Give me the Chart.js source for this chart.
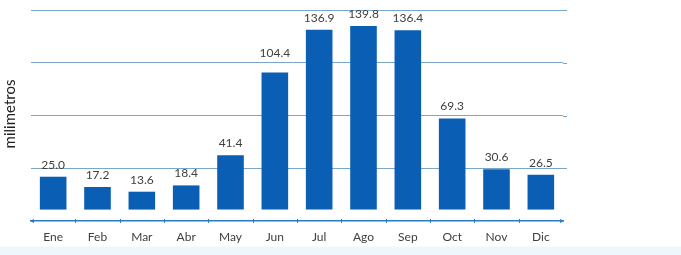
<!DOCTYPE html>
<html>
<head>
<meta charset="utf-8">
<script src="https://cdn.jsdelivr.net/npm/chart.js@4/dist/chart.umd.min.js"></script>
<style>
  html, body { margin: 0; padding: 0; background: #ffffff; }
  #wrap { position: relative; width: 681px; height: 255px;
          background: linear-gradient(to bottom, #ffffff 0px, #ffffff 246px, #eef7fb 247px, #eef7fb 255px); }
  canvas { display: block; }
</style>
</head>
<body>
<div id="wrap"><canvas id="c" width="681" height="255"></canvas></div>
<script>
const categories = ["Ene","Feb","Mar","Abr","May","Jun","Jul","Ago","Sep","Oct","Nov","Dic"];
const rainfall = [25.0, 17.2, 13.6, 18.4, 41.4, 104.4, 136.9, 139.8, 136.4, 69.3, 30.6, 26.5];
const gridValues = [31.3, 71.5, 111.7, 151.9];
const yTitle = "milimetros";

const FONT = "Lato, 'Open Sans', sans-serif";

const valueLabels = {
  id: 'valueLabels',
  afterDatasetsDraw(chart) {
    const ctx = chart.ctx;
    const meta = chart.getDatasetMeta(0);
    ctx.save();
    ctx.font = "12px " + FONT;
    ctx.fillStyle = "#404040";
    ctx.textAlign = "center";
    ctx.textBaseline = "middle";
    meta.data.forEach((bar, i) => {
      const extra = categories[i] === "Jun" ? 7 : 0;
      ctx.fillText(rainfall[i].toFixed(1), bar.x, bar.y - 12 - extra);
    });
    ctx.restore();
  }
};

const sideTitle = {
  id: 'sideTitle',
  afterDraw(chart) {
    const ctx = chart.ctx;
    ctx.save();
    ctx.font = "15px " + FONT;
    ctx.fillStyle = "#222222";
    ctx.textAlign = "center";
    ctx.textBaseline = "middle";
    ctx.translate(10, 114);
    ctx.rotate(-Math.PI / 2);
    ctx.fillText(yTitle, 0, 0);
    ctx.restore();
  }
};

const axisDecor = {
  id: 'axisDecor',
  afterDraw(chart) {
    const ctx = chart.ctx;
    const a = chart.chartArea;
    const x = chart.scales.x;
    ctx.save();
    ctx.fillStyle = "#2a7cc0";
    ctx.strokeStyle = "#2a7cc0";
    ctx.lineWidth = 1;
    const y = a.bottom;
    ctx.beginPath();
    ctx.moveTo(a.left - 1, y); ctx.lineTo(a.left + 3, y - 2); ctx.lineTo(a.left + 3, y + 2); ctx.closePath(); ctx.fill();
    ctx.beginPath();
    ctx.moveTo(a.right + 1, y); ctx.lineTo(a.right - 3, y - 2); ctx.lineTo(a.right - 3, y + 2); ctx.closePath(); ctx.fill();
    for (let i = 1; i < categories.length; i++) {
      const bx = Math.round((x.getPixelForValue(i - 1) + x.getPixelForValue(i)) / 2) + 0.5;
      ctx.beginPath(); ctx.moveTo(bx, y - 2); ctx.lineTo(bx, y + 2); ctx.stroke();
    }
    ctx.font = "12px " + FONT;
    ctx.fillStyle = "#404040";
    ctx.textAlign = "center";
    ctx.textBaseline = "middle";
    categories.forEach((c, i) => ctx.fillText(c, x.getPixelForValue(i), y + 16));
    ctx.restore();
  }
};

// extend the horizontal grid lines slightly past the plot area, as in the reference
const gridExtend = {
  id: 'gridExtend',
  beforeDatasetsDraw(chart) {
    const ctx = chart.ctx;
    const a = chart.chartArea;
    const ys = chart.scales.y;
    ctx.save();
    ctx.strokeStyle = '#7aa6c9';
    ctx.lineWidth = 1;
    gridValues.forEach(v => {
      const py = Math.round(ys.getPixelForValue(v)) + 0.5;
      ctx.beginPath(); ctx.moveTo(a.right, py); ctx.lineTo(a.right + 4, py); ctx.stroke();
    });
    ctx.restore();
  }
};

new Chart(document.getElementById('c'), {
  type: 'bar',
  data: {
    labels: categories,
    datasets: [{
      data: rainfall,
      backgroundColor: '#0a5fb4',
      borderWidth: 0,
      barPercentage: 0.6,
      categoryPercentage: 1.0,
      base: 0
    }]
  },
  options: {
    responsive: false,
    animation: false,
    events: [],
    layout: { padding: { left: 31, right: 118, top: 10, bottom: 34 } },
    plugins: { legend: { display: false }, tooltip: { enabled: false } },
    scales: {
      x: {
        offset: true,
        grid: { display: false, drawOnChartArea: false, drawTicks: false, tickLength: 0 },
        border: { display: true, color: '#2a7cc0', width: 1.5 },
        ticks: { display: false, padding: 0 }
      },
      y: {
        min: -8.7,
        max: 151.9,
        afterBuildTicks(scale) { scale.ticks = gridValues.map(v => ({ value: v })); },
        grid: { color: '#7aa6c9', lineWidth: 1, drawTicks: false },
        border: { display: false },
        ticks: { display: false, padding: 0 }
      }
    }
  },
  plugins: [valueLabels, sideTitle, axisDecor, gridExtend]
});
</script>
</body>
</html>
